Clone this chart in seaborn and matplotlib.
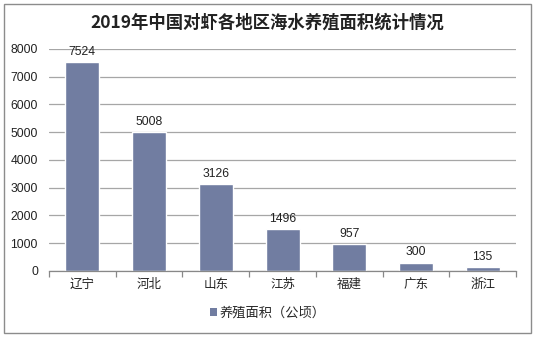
import matplotlib
matplotlib.use("Agg")
import matplotlib.pyplot as plt
import seaborn as sns
import pandas as pd
from matplotlib.patches import Rectangle, Patch

regions = ["辽宁", "河北", "山东", "江苏", "福建", "广东", "浙江"]
areas = [7524, 5008, 3126, 1496, 957, 300, 135]
title = "2019年中国对虾各地区海水养殖面积统计情况"
legend_label = "养殖面积（公顷）"

sns.set_theme(style="white")
plt.rcParams['font.family'] = ['Noto Sans CJK SC', 'DejaVu Sans']
num_font = ['Liberation Sans', 'DejaVu Sans']

df = pd.DataFrame({"region": regions, "area": areas, "series": legend_label})

fig = plt.figure(figsize=(5.35, 3.37), dpi=100)
ax = fig.add_axes([0.0916, 0.196, 0.873, 0.659])

bar_color = "#717DA1"
sns.barplot(data=df, x="region", y="area", hue="series", palette=[bar_color],
            width=0.51, ax=ax, saturation=1, legend=False)

ax.set_ylim(0, 8000)
ax.set_xlim(-0.5, len(regions) - 0.5)
ax.set_yticks(range(0, 8001, 1000))
ax.yaxis.grid(True, color="#A6A6A6", linewidth=0.9)
ax.set_axisbelow(True)
for s in ["top", "right", "left"]:
    ax.spines[s].set_visible(False)
ax.spines["bottom"].set_color("#888888")
ax.spines["bottom"].set_linewidth(0.9)
ax.set_xlabel("")
ax.set_ylabel("")
ax.tick_params(axis="y", length=0, pad=8, labelsize=8.7, labelcolor="#222222")
ax.tick_params(axis="x", length=0, pad=5, labelsize=9, labelcolor="#222222")
for lab in ax.get_yticklabels():
    lab.set_family(num_font)
ax.set_xticks([i - 0.5 for i in range(len(regions) + 1)], minor=True)
ax.tick_params(axis="x", which="minor", length=4, color="#888888", width=0.9, bottom=True)

for i, v in enumerate(areas):
    ax.text(i, v + 150, str(v), ha="center", va="bottom", fontsize=8.7,
            color="#222222", family=num_font)

fig.text(0.5, 0.934, title, ha="center", va="center", fontsize=12.5, fontweight="bold",
         color="#222222")

handles = [Patch(facecolor=bar_color, edgecolor="none", label=legend_label)]
fig.legend(handles=handles, loc="center", bbox_to_anchor=(0.5, 0.072), frameon=False,
           fontsize=9.5, handlelength=0.55, handleheight=0.55, handletextpad=0.2)

fig.add_artist(Rectangle((0.008, 0.012), 0.984, 0.976, transform=fig.transFigure,
                         fill=False, edgecolor="#8C8C8C", linewidth=1))

fig.savefig("out.png", dpi=100)
